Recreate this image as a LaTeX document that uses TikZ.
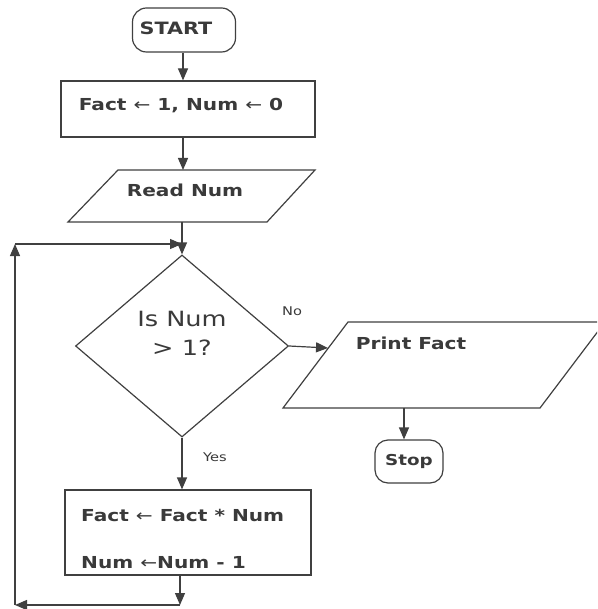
\documentclass[tikz,border=0pt]{standalone}
\usepackage{fontspec}
\setmainfont{DejaVu Sans}[FakeStretch=1.22]
\usetikzlibrary{arrows.meta,shapes.geometric}
\definecolor{ink}{HTML}{404040}
\definecolor{txt}{HTML}{3A3A3A}
\tikzset{
  x=1pt, y=1pt,
  line/.style={draw=ink, line width=1.2pt},
  flow/.style={line, -{Triangle[length=12pt,width=10pt]}},
  term/.style={line, rounded corners=14pt, minimum width=103pt, minimum height=44pt, inner sep=0pt},
  proc/.style={line, rectangle, inner sep=0pt},
  lbl/.style={text=txt, inner sep=0pt},
  boxtext/.style={lbl, font=\fontsize{16.5}{18}\selectfont\bfseries},
}
\begin{document}
\begin{tikzpicture}
\useasboundingbox (0,0) rectangle (597,-609);
\clip (0,0) rectangle (597,-609);
\fill[white] (0,0) rectangle (597,-609);

% start terminal and initialisation
\node[term] (start) at (184,-30) {};
\node[lbl, font=\bfseries\fontsize{17}{19}\selectfont] (starttext) at (176,-28) {START};
\node[proc, minimum width=254pt, minimum height=56pt] (init) at (188,-109) {};
\node[boxtext] (inittext) at (181,-106) {Fact {\mdseries←} 1, Num {\mdseries←} 0};

% input parallelogram
\draw[line] (118,-170) -- (315,-170) -- (267,-222) -- (68,-222) -- cycle;
\coordinate (readT) at (183,-170);
\coordinate (readB) at (182,-222);
\node[boxtext] (read) at (185,-190) {Read Num};

% decision
\node[draw=ink, line width=1.2pt, shape=diamond, minimum width=213pt, minimum height=182pt, inner sep=0pt] (dec) at (182,-346) {};
\node[lbl, align=center, font=\fontsize{21}{29}\selectfont] (dectext) at (182,-333) {Is Num\\> 1?};
\node[lbl, font=\fontsize{12}{14}\selectfont] (no) at (292,-311) {No};
\node[lbl, font=\fontsize{12}{14}\selectfont] (yes) at (215,-457) {Yes};

% output parallelogram
\draw[line] (348,-322) -- (605,-322) -- (540,-408) -- (283,-408) -- cycle;
\coordinate (printL) at (328,-348);
\coordinate (printB) at (404,-408);
\node[boxtext] (print) at (411,-343) {Print Fact};

% stop terminal
\node[term, minimum width=68pt, minimum height=43pt, rounded corners=13pt, text=txt, font=\bfseries\fontsize{15}{17}\selectfont] (stop) at (409,-461.5) {Stop};

% loop body
\node[proc, minimum width=246pt, minimum height=85pt] (body) at (188,-532.5) {};
\node[boxtext, anchor=west] (body1) at (81,-515) {Fact {\mdseries←} Fact * Num};
\node[boxtext, anchor=west] (body2) at (81,-563) {Num {\mdseries←}Num - 1};

% loop return path
\coordinate (join) at (182,-244);
\coordinate (bot) at (180,-605);
\coordinate (cornerB) at (15,-605);
\coordinate (cornerT) at (15,-244);

% connectors
\draw[flow] (start.south -| readT) -- (init.north -| readT);
\draw[flow] (init.south -| readT) -- (readT);
\draw[flow] (readB) -- (dec.north);
\draw[flow] (dec.east) -- (printL);
\draw[flow] (printB) -- (printB |- stop.north);
\draw[flow] (dec.south) -- (dec.south |- body.north);
\draw[flow] (body.south -| bot) -- (bot);
\draw[flow] (bot) -- (cornerB);
\draw[flow] (cornerB) -- (cornerT);
\draw[flow] (cornerT) -- (join);
\end{tikzpicture}
\end{document}
